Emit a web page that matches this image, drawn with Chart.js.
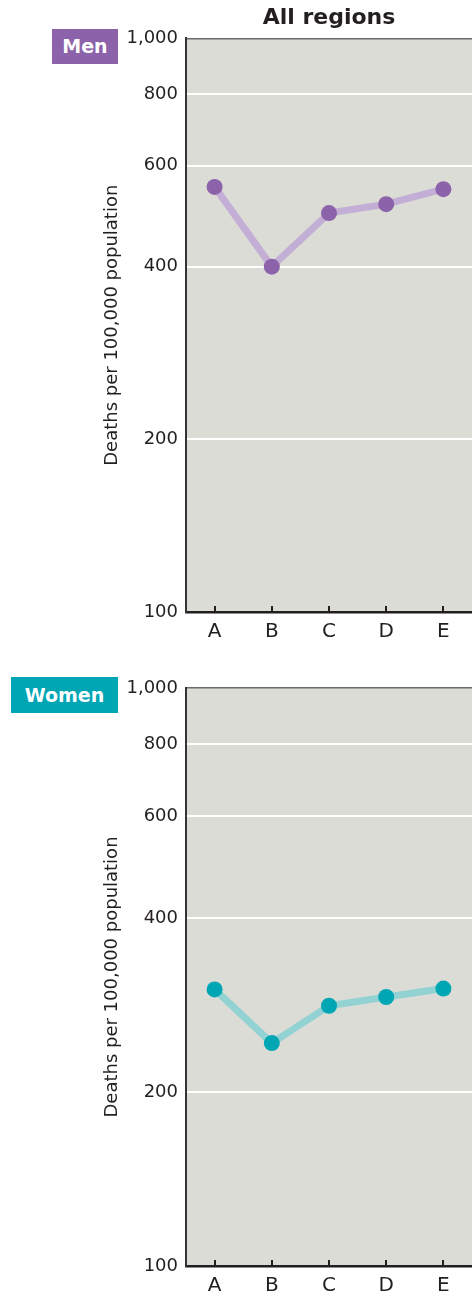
<!DOCTYPE html>
<html lang="en">
<head>
<meta charset="UTF-8">
<title>All regions – Deaths per 100,000 population</title>
<script src="https://cdn.jsdelivr.net/npm/chart.js"></script>
<style>
  body { margin: 0; background: #fff; font-family: "DejaVu Sans", sans-serif; }
  .panel { position: relative; width: 472px; }
  .tag {
    position: absolute;
    color: #fff;
    font-weight: bold;
    font-size: 19px;
    text-align: center;
  }
  #menTag { left: 52px; top: 29px; width: 66px; height: 35px; line-height: 35px; background: #8c62aa; }
  #womenTag { left: 11px; top: 677px; width: 107px; height: 36px; line-height: 36px; background: #00a6b4; }
  canvas { display: block; }
</style>
</head>
<body>
  <div class="panel">
    <canvas id="menChart" width="472" height="650"></canvas>
    <canvas id="womenChart" width="472" height="648"></canvas>
    <div class="tag" id="menTag">Men</div>
    <div class="tag" id="womenTag">Women</div>
  </div>

<script>
  // Data
  const regions = ['A', 'B', 'C', 'D', 'E'];
  const menRates = [551, 400, 496, 514, 546];
  const womenRates = [301, 243, 282, 292, 302];
  const yTickValues = [100, 200, 400, 600, 800, 1000];
  const yTickLabels = ['100', '200', '400', '600', '800', '1,000'];

  const FONT = '"DejaVu Sans", sans-serif';
  const TEXT = '#231f20';

  // grey plot background
  const plotBackground = {
    id: 'plotBackground',
    beforeDraw(chart) {
      const { ctx, chartArea: a } = chart;
      ctx.save();
      ctx.fillStyle = '#dcdcd7';
      ctx.fillRect(a.left, a.top, a.right - a.left, a.bottom - a.top);
      ctx.restore();
    }
  };

  // small tick marks pointing up into the plot
  const innerTicks = {
    id: 'innerTicks',
    afterDraw(chart) {
      const { ctx, chartArea } = chart;
      const xs = chart.scales.x;
      ctx.save();
      ctx.strokeStyle = TEXT;
      ctx.lineWidth = 2;
      ctx.beginPath();
      xs.ticks.forEach((t, i) => {
        const px = Math.round(xs.getPixelForTick(i));
        ctx.moveTo(px, chartArea.bottom);
        ctx.lineTo(px, chartArea.bottom - 6);
      });
      ctx.stroke();
      ctx.restore();
    }
  };

  function makeChart(id, values, pointColor, lineColor, opts) {
    return new Chart(document.getElementById(id), {
      type: 'line',
      data: {
        labels: regions,
        datasets: [{
          data: values,
          borderColor: lineColor,
          borderWidth: 7,
          pointBackgroundColor: pointColor,
          pointBorderWidth: 0,
          pointRadius: 8,
          tension: 0
        }]
      },
      options: {
        responsive: false,
        animation: false,
        layout: {
          autoPadding: false,
          padding: { left: 102, right: 0, top: opts.padTop, bottom: opts.padBottom }
        },
        plugins: {
          legend: { display: false },
          tooltip: { enabled: false },
          title: {
            display: opts.title !== '',
            text: opts.title,
            fullSize: false,
            color: TEXT,
            font: { family: FONT, size: 22, weight: 'bold' },
            padding: { top: 5, bottom: 7 }
          }
        },
        scales: {
          x: {
            offset: true,
            afterFit: s => { s.height = 32; s.paddingLeft = 0; s.paddingRight = 0; },
            grid: { display: true, drawOnChartArea: false, drawTicks: false },
            border: { color: TEXT, width: 2.5 },
            ticks: { color: TEXT, font: { family: FONT, size: 20 }, padding: 8 }
          },
          y: {
            type: 'logarithmic',
            min: 100,
            max: 1000,
            afterBuildTicks: s => { s.ticks = yTickValues.map(v => ({ value: v })); },
            afterFit: s => { s.width = 84; s.paddingTop = 0; s.paddingBottom = 0; },
            ticks: {
              color: TEXT,
              font: { family: FONT, size: 18 },
              padding: 8,
              callback: (v, i) => yTickLabels[i]
            },
            grid: {
              drawTicks: false,
              color: c => c.tick.value === 1000 ? '#6a6a6a' : (c.tick.value === 100 ? 'rgba(0,0,0,0)' : '#ffffff'),
              lineWidth: c => c.tick.value === 1000 ? 1.5 : 2
            },
            border: { color: '#333333', width: 2 },
            title: {
              display: true,
              text: 'Deaths per 100,000 population',
              color: TEXT,
              font: { family: FONT, size: 18 },
              padding: 0
            }
          }
        }
      },
      plugins: [plotBackground, innerTicks]
    });
  }

  makeChart('menChart', menRates, '#8c62aa', '#c3afd5', { title: 'All regions', padTop: 0, padBottom: 6 });
  makeChart('womenChart', womenRates, '#00a6b4', '#93d2d3', { title: '', padTop: 38, padBottom: 0 });
</script>
</body>
</html>
